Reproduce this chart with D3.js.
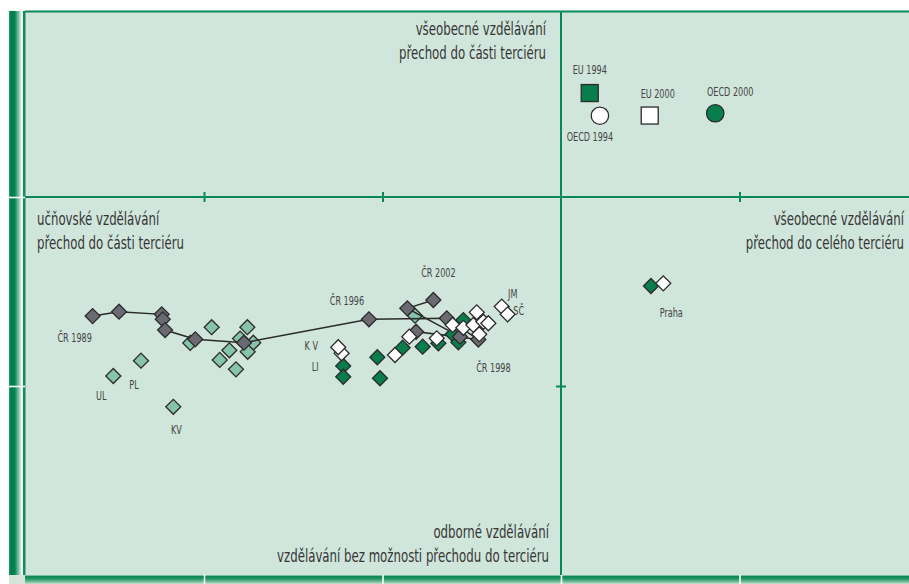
<!DOCTYPE html>
<html>
<head>
<meta charset="utf-8">
<script src="https://cdn.jsdelivr.net/npm/d3@7"></script>
<style>
  html, body { margin: 0; padding: 0; background: #ffffff; }
  svg { display: block; }
</style>
</head>
<body>
<svg id="chart" width="909" height="584"></svg>
<script>
// Trajektorie ČR 1989–2002
const crPoints = [
  { year: 1989, x: -2.624, y: -0.630, label: "ČR 1989" },
  { year: 1990, x: -2.476, y: -0.607 },
  { year: 1991, x: -2.237, y: -0.621 },
  { year: 1992, x: -2.231, y: -0.647 },
  { year: 1993, x: -2.218, y: -0.704 },
  { year: 1994, x: -2.049, y: -0.753 },
  { year: 1995, x: -1.776, y: -0.771 },
  { year: 1996, x: -1.076, y: -0.647, label: "ČR 1996" },
  { year: 1997, x: -0.640, y: -0.642 },
  { year: 1998, x: -0.463, y: -0.754, label: "ČR 1998" },
  { year: 1999, x: -0.812, y: -0.713 },
  { year: 2000, x: -0.566, y: -0.739 },
  { year: 2001, x: -0.861, y: -0.589 },
  { year: 2002, x: -0.715, y: -0.545, label: "ČR 2002" }
];

// Kraje – první sledované období
const regionsLight = [
  { x: -1.957, y: -0.689 }, { x: -1.757, y: -0.689 }, { x: -2.077, y: -0.772 },
  { x: -1.858, y: -0.811 }, { x: -1.912, y: -0.862 }, { x: -1.821, y: -0.912 },
  { x: -1.798, y: -0.749 }, { x: -1.724, y: -0.771 }, { x: -1.755, y: -0.819 },
  { x: -2.353, y: -0.866, label: "PL" },
  { x: -2.508, y: -0.947, label: "UL" },
  { x: -2.172, y: -1.110, label: "KV" },
  { x: -0.818, y: -0.628 }
];

// Kraje – druhé období
const regionsDark = [
  { x: 0.504, y: -0.471 },
  { x: -1.220, y: -0.894, label: "LI" },
  { x: -1.220, y: -0.951 },
  { x: -1.029, y: -0.848 },
  { x: -1.014, y: -0.959 },
  { x: -0.887, y: -0.797 },
  { x: -0.775, y: -0.792 },
  { x: -0.687, y: -0.774 },
  { x: -0.547, y: -0.651 },
  { x: -0.607, y: -0.726 },
  { x: -0.575, y: -0.769 }
];

// Kraje – třetí období
const regionsWhite = [
  { x: 0.573, y: -0.457, label: "Praha" },
  { x: -1.229, y: -0.827 },
  { x: -1.248, y: -0.795, label: "K V" },
  { x: -0.930, y: -0.836 },
  { x: -0.850, y: -0.739 },
  { x: -0.696, y: -0.748 },
  { x: -0.607, y: -0.677 },
  { x: -0.547, y: -0.692 },
  { x: -0.491, y: -0.677 },
  { x: -0.472, y: -0.610 },
  { x: -0.435, y: -0.660 },
  { x: -0.407, y: -0.668 },
  { x: -0.458, y: -0.726 },
  { x: -0.332, y: -0.580, label: "JM" },
  { x: -0.299, y: -0.621, label: "SČ" }
];

// Srovnávací body EU a OECD
const euPoints = [
  { x: 0.161, y: 0.550, label: "EU 1994" },
  { x: 0.497, y: 0.431, label: "EU 2000" }
];
const oecdPoints = [
  { x: 0.218, y: 0.430, label: "OECD 1994" },
  { x: 0.864, y: 0.443, label: "OECD 2000" }
];

// Popisy kvadrantů
const quadTop = ["všeobecné vzdělávání", "přechod do části terciéru"];
const quadLeft = ["učňovské vzdělávání", "přechod do části terciéru"];
const quadRight = ["všeobecné vzdělávání", "přechod do celého terciéru"];
const quadBottom = ["odborné vzdělávání", "vzdělávání bez možnosti přechodu do terciéru"];

const axisTicksX = [-2, -1, 1];
const axisTicksY = [-1];
const frameTicksX = [-2, -1, 0, 1];
const frameTicksY = [0, -1];

// ---- layout & styles ----
const W = 909, H = 584;
const panel = { left: 25, top: 11, right: 909, bottom: 575 };
const C = {
  panel: "#d0e5db",
  green: "#08885a",
  dark: "#0a7d4c",
  light: "#86c3a9",
  gray: "#6a6a72",
  white: "#ffffff",
  stroke: "#2b2b2b",
  text: "#353535"
};
const FONT = "'DejaVu Sans Condensed', 'DejaVu Sans', sans-serif";
const CAPTION_SQUEEZE = 0.77;
const LABEL_SQUEEZE = 0.72;

// label offsets (px) from the mark they belong to
const labelOffset = {
  "ČR 1989": [-18, 26], "ČR 1996": [-22, -14], "ČR 1998": [15, 32], "ČR 2002": [5, -23],
  "PL": [-7, 28], "UL": [-12, 24], "KV": [3, 27],
  "LI": [-28, 5], "K V": [-27, 3], "JM": [11, -9], "SČ": [11, 1], "Praha": [8, 34],
  "EU 1994": [0, -19], "EU 2000": [8, -18], "OECD 1994": [-10, 25], "OECD 2000": [15, -17]
};
const refFill = { "EU 1994": C.dark, "EU 2000": C.white, "OECD 1994": C.white, "OECD 2000": C.dark };

const x = d3.scaleLinear().domain([-3, 2]).range([25.5, 918]);
const y = d3.scaleLinear().domain([-2, 1]).range([575, 8]);

const svg = d3.select("#chart");
const defs = svg.append("defs");

// left frame band gradient
const gL = defs.append("linearGradient").attr("id", "bandLeft")
  .attr("x1", "0").attr("x2", "1").attr("y1", "0").attr("y2", "0");
[[0, "#2a9e6c"], [0.1, "#00804d"], [0.33, "#00804d"], [0.5, "#4fab84"],
 [0.68, "#b9dccb"], [0.76, "#f7fbf9"], [0.84, "#e6f2ec"], [0.86, "#0f8d5b"], [1, "#0f8d5b"]]
  .forEach(([o, c]) => gL.append("stop").attr("offset", o).attr("stop-color", c));

// bottom frame band gradient
const gB = defs.append("linearGradient").attr("id", "bandBottom")
  .attr("x1", "0").attr("x2", "0").attr("y1", "0").attr("y2", "1");
[[0, "#dcefe5"], [0.12, "#0a8552"], [0.4, "#1f9563"], [0.75, "#73bb98"], [1, "#c8e3d5"]]
  .forEach(([o, c]) => gB.append("stop").attr("offset", o).attr("stop-color", c));

// panel
svg.append("rect")
  .attr("x", panel.left).attr("y", panel.top)
  .attr("width", panel.right - panel.left).attr("height", panel.bottom - panel.top)
  .attr("fill", C.panel);

// top border
svg.append("line")
  .attr("x1", panel.left).attr("x2", panel.right)
  .attr("y1", panel.top + 0.5).attr("y2", panel.top + 0.5)
  .attr("stroke", C.green).attr("stroke-width", 1.8);

// left band
svg.append("rect").attr("x", 9).attr("y", panel.top)
  .attr("width", 16.5).attr("height", panel.bottom - panel.top)
  .attr("fill", "url(#bandLeft)");

// bottom band
svg.append("rect").attr("x", 25).attr("y", panel.bottom)
  .attr("width", W - 25).attr("height", H - panel.bottom)
  .attr("fill", "url(#bandBottom)");
svg.append("rect").attr("x", 9).attr("y", panel.bottom)
  .attr("width", 16).attr("height", H - panel.bottom)
  .attr("fill", "#d5e3db");

// white frame ticks
const fTickX = svg.append("g").attr("transform", `translate(0,${panel.bottom})`)
  .call(d3.axisBottom(x).tickValues(frameTicksX).tickSize(H - panel.bottom).tickFormat(""));
fTickX.select(".domain").remove();
fTickX.selectAll(".tick line").attr("stroke", "#ffffff").attr("stroke-width", 1.6);

const fTickY = svg.append("g").attr("transform", "translate(9,0)")
  .call(d3.axisRight(y).tickValues(frameTicksY).tickSize(16).tickFormat(""));
fTickY.select(".domain").remove();
fTickY.selectAll(".tick line").attr("stroke", "#ffffff").attr("stroke-width", 1.6);

// central axes
svg.append("line")
  .attr("x1", panel.left).attr("x2", panel.right)
  .attr("y1", y(0)).attr("y2", y(0))
  .attr("stroke", C.green).attr("stroke-width", 2);
svg.append("line")
  .attr("x1", x(0)).attr("x2", x(0))
  .attr("y1", panel.top).attr("y2", panel.bottom)
  .attr("stroke", C.green).attr("stroke-width", 2);

const axX = svg.append("g").attr("transform", `translate(0,${y(0) - 5})`)
  .call(d3.axisBottom(x).tickValues(axisTicksX).tickSize(10).tickFormat(""));
axX.select(".domain").remove();
axX.selectAll(".tick line").attr("stroke", C.green).attr("stroke-width", 2);

const axY = svg.append("g").attr("transform", `translate(${x(0) + 5},0)`)
  .call(d3.axisLeft(y).tickValues(axisTicksY).tickSize(10).tickFormat(""));
axY.select(".domain").remove();
axY.selectAll(".tick line").attr("stroke", C.green).attr("stroke-width", 2);

// quadrant captions (narrow letterforms via horizontal scaling)
function caption(lines, anchor, xPos, baseline, step) {
  const g = svg.append("g")
    .attr("font-family", FONT).attr("font-size", 17)
    .attr("fill", C.text).attr("text-anchor", anchor);
  g.selectAll("text").data(lines).join("text")
    .attr("transform", (d, i) => `translate(${xPos},${baseline + i * step}) scale(${CAPTION_SQUEEZE},1)`)
    .text(d => d);
}
caption(quadTop, "end", x(0) - 15, 35, 23.5);
caption(quadLeft, "start", panel.left + 12, 225, 23.5);
caption(quadRight, "end", 904, 225, 23.5);
caption(quadBottom, "end", x(0) - 12, 538, 23.5);

// markers
const diamond = d3.symbol().type(d3.symbolSquare).size(112)();
function diamonds(data, fill) {
  svg.append("g").selectAll("path").data(data).join("path")
    .attr("d", diamond)
    .attr("transform", d => `translate(${x(d.x)},${y(d.y)}) rotate(45)`)
    .attr("fill", fill)
    .attr("stroke", C.stroke).attr("stroke-width", 1.3);
}

diamonds(regionsLight, C.light);

svg.append("path")
  .datum(crPoints)
  .attr("d", d3.line().x(d => x(d.x)).y(d => y(d.y)))
  .attr("fill", "none")
  .attr("stroke", C.stroke).attr("stroke-width", 1.5);

diamonds(regionsDark, C.dark);
diamonds(crPoints, C.gray);
diamonds(regionsWhite, C.white);

// EU / OECD reference points
svg.append("g").selectAll("rect").data(euPoints).join("rect")
  .attr("x", d => x(d.x) - 8.5).attr("y", d => y(d.y) - 8.5)
  .attr("width", 17).attr("height", 17)
  .attr("fill", d => refFill[d.label])
  .attr("stroke", C.stroke).attr("stroke-width", 1.3);
svg.append("g").selectAll("circle").data(oecdPoints).join("circle")
  .attr("cx", d => x(d.x)).attr("cy", d => y(d.y)).attr("r", 8.7)
  .attr("fill", d => refFill[d.label])
  .attr("stroke", C.stroke).attr("stroke-width", 1.3);

// point labels
const labelled = [...crPoints, ...regionsLight, ...regionsDark, ...regionsWhite, ...euPoints, ...oecdPoints]
  .filter(d => d.label);
svg.append("g")
  .attr("font-family", FONT).attr("font-size", 12.5)
  .attr("fill", "#444444").attr("text-anchor", "middle")
  .selectAll("text").data(labelled).join("text")
  .attr("transform", d =>
    `translate(${x(d.x) + labelOffset[d.label][0]},${y(d.y) + labelOffset[d.label][1]}) scale(${LABEL_SQUEEZE},1)`)
  .text(d => d.label);
</script>
</body>
</html>
